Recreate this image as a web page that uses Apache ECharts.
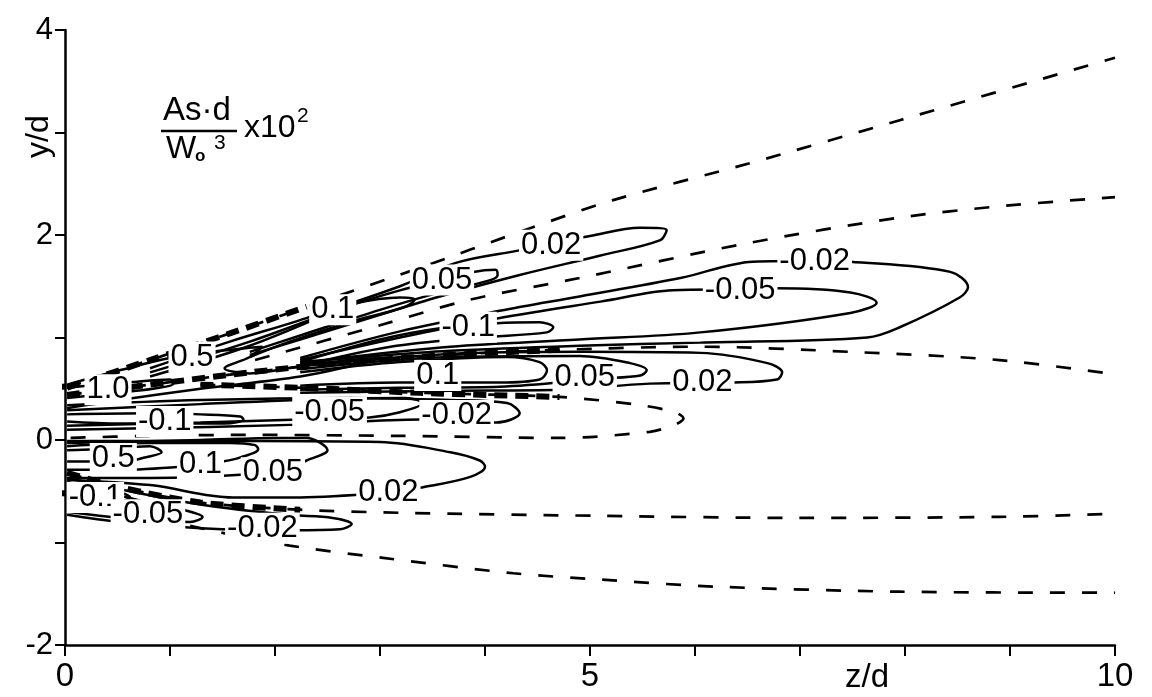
<!DOCTYPE html>
<html><head><meta charset="utf-8">
<script src="https://cdn.jsdelivr.net/npm/echarts/dist/echarts.min.js"></script>
<style>html,body{margin:0;padding:0;background:#fff}#c{width:1152px;height:697px}</style>
</head><body><div id="c"></div>
<script>
// ---- tick labels ----
const xTickLabels = [0, 5, 10];
const yTickLabels = [4, 2, 0, -2];

// ---- zero (dashed) contours ----
const zeroLine1 = [[0.02,0.51],[0.81,0.78],[1.57,1.04],[2.30,1.30],[3.38,1.68],[4.33,2.03],[5.22,2.34],[6.52,2.70],[7.95,3.12],[10.0,3.73]];
const zeroLine2 = [[1.81,0.78],[3.00,1.12],[3.86,1.37],[4.90,1.58],[6.50,1.92],[7.95,2.17],[8.90,2.28],[10.0,2.37]];
const zeroLine3 = [[0.02,0.44],[0.81,0.54],[1.76,0.66],[2.71,0.76],[3.67,0.83],[4.71,0.88],[6.05,0.91],[7.48,0.86],[8.90,0.78],[10.0,0.64]];
const zeroLoop4 = [[1.29,0.54],[2.24,0.51],[3.38,0.46],[4.71,0.42],[5.48,0.34],[5.81,0.27],[5.89,0.21],[5.81,0.15],[5.57,0.08],[4.71,0.02],[3.19,0.04],[1.76,0.05],[0.81,0.04],[0.02,0.02]];
const zeroLine5 = [[0.02,-0.32],[0.52,-0.46],[1.29,-0.61],[2.24,-0.68],[3.19,-0.71],[5.10,-0.74],[7.00,-0.76],[8.90,-0.75],[10.0,-0.72]];
const zeroLine6 = [[0.02,-0.49],[0.81,-0.73],[1.29,-0.86],[2.14,-1.03],[3.03,-1.15],[4.27,-1.30],[5.22,-1.37],[6.17,-1.43],[7.95,-1.48],[10.0,-1.49]];

// ---- solid contours (upper shear layer) ----
const upperPos002 = [[0.81,0.70],[1.57,0.96],[2.24,1.17],[3.19,1.50],[3.73,1.73],[4.33,1.85],[5.00,1.99],[5.48,2.07],[5.73,2.05],[5.67,1.95],[5.10,1.80],[4.33,1.61],[3.57,1.40],[2.90,1.19],[2.24,0.98],[1.76,0.83]];
const upperPos005 = [[0.81,0.66],[1.76,0.96],[2.71,1.31],[3.19,1.46],[3.59,1.56],[3.89,1.64],[4.10,1.66],[4.12,1.61],[4.05,1.56],[3.57,1.44],[3.00,1.27],[2.24,1.02],[1.76,0.86]];
const upperPos01 = [[0.81,0.62],[1.76,0.92],[2.55,1.25],[2.74,1.33],[3.19,1.39],[3.33,1.37],[3.24,1.30],[2.71,1.15],[2.14,0.96],[1.76,0.81]];
const upperPos05 = [[0.02,0.54],[0.52,0.68],[1.00,0.80],[1.48,0.87],[1.88,0.91],[1.76,0.81],[1.52,0.70],[1.76,0.65],[2.24,0.72],[2.71,0.78],[3.00,0.80],[2.71,0.72],[2.24,0.62],[1.29,0.50],[0.52,0.39],[0.02,0.31]];
const upperPos10 = [[0.02,0.51],[0.33,0.54],[0.59,0.56],[1.00,0.59],[1.03,0.55],[0.90,0.51],[0.59,0.47],[0.02,0.41]];
const upperNeg002 = [[2.24,0.80],[3.19,1.06],[4.14,1.26],[4.90,1.40],[5.86,1.58],[6.55,1.74],[7.14,1.75],[7.48,1.74],[8.43,1.64],[8.60,1.49],[8.52,1.39],[7.95,1.10],[7.64,1.00],[6.05,0.95],[4.90,0.92],[3.67,0.87],[2.71,0.80],[2.24,0.76]];
const upperNeg005 = [[2.24,0.78],[3.19,1.00],[4.14,1.19],[5.10,1.35],[5.79,1.46],[6.43,1.47],[6.76,1.48],[7.48,1.44],[7.73,1.34],[7.48,1.24],[6.05,1.05],[4.90,0.98],[3.67,0.91],[2.71,0.81],[2.24,0.74]];
const upperNeg01 = [[2.24,0.76],[3.00,0.98],[3.57,1.09],[4.11,1.14],[4.52,1.15],[4.65,1.10],[4.59,1.05],[3.95,1.00],[3.10,0.91],[2.24,0.72]];

// ---- solid contours (centre region) ----
const midPos01 = [[2.24,0.66],[3.19,0.76],[4.21,0.81],[4.52,0.76],[4.59,0.68],[4.52,0.59],[4.14,0.56],[3.19,0.56],[2.24,0.53]];
const midPos005 = [[2.24,0.69],[3.67,0.81],[4.90,0.82],[5.38,0.75],[5.54,0.68],[5.48,0.63],[5.10,0.60],[4.14,0.52],[3.19,0.51],[2.24,0.49]];
const midPos002 = [[2.24,0.72],[3.67,0.84],[4.90,0.86],[6.05,0.85],[6.69,0.75],[6.83,0.66],[6.78,0.59],[6.33,0.56],[5.57,0.55],[4.71,0.49],[3.67,0.48],[2.24,0.46]];
const midNeg002 = [[0.02,0.34],[1.29,0.39],[2.71,0.41],[3.67,0.39],[4.21,0.36],[4.33,0.26],[4.11,0.17],[3.86,0.20],[3.38,0.20],[2.24,0.15],[0.02,0.10]];
const midNeg005 = [[0.02,0.29],[1.29,0.35],[2.52,0.40],[3.24,0.41],[3.41,0.36],[3.19,0.27],[2.90,0.22],[2.24,0.20],[1.29,0.17],[0.02,0.14]];
const midNeg01 = [[0.02,0.25],[0.81,0.26],[1.29,0.25],[1.67,0.23],[1.70,0.20],[1.52,0.16],[1.10,0.16],[0.52,0.16],[0.02,0.18]];

// ---- solid contours (lower shear layer) ----
const lowPos05 = [[0.02,-0.10],[0.52,-0.08],[0.81,-0.06],[0.92,-0.12],[0.76,-0.17],[0.62,-0.20],[0.02,-0.21]];
const lowPos01 = [[0.02,-0.06],[0.81,-0.03],[1.57,-0.03],[1.81,-0.05],[1.84,-0.09],[1.67,-0.17],[1.50,-0.21],[1.10,-0.26],[0.52,-0.29],[0.02,-0.29]];
const lowPos005 = [[0.02,-0.03],[1.29,0.00],[2.05,0.02],[2.30,0.02],[2.50,-0.10],[2.30,-0.20],[2.14,-0.27],[1.67,-0.34],[0.81,-0.37],[0.02,-0.37]];
const lowPos002 = [[0.02,-0.01],[1.76,-0.01],[3.00,-0.02],[3.67,-0.12],[3.95,-0.20],[4.00,-0.26],[3.86,-0.36],[3.41,-0.46],[3.08,-0.51],[2.24,-0.56],[1.60,-0.56],[0.81,-0.44],[0.02,-0.39]];
const lowNeg01 = [[0.02,-0.44],[0.33,-0.49],[0.52,-0.51],[0.62,-0.56],[0.52,-0.60],[0.33,-0.61],[0.02,-0.63]];
const lowNeg005 = [[0.02,-0.41],[0.71,-0.59],[1.16,-0.69],[1.31,-0.75],[1.19,-0.80],[0.71,-0.78],[0.02,-0.70]];
const lowNeg002 = [[0.02,-0.37],[1.29,-0.63],[2.14,-0.73],[2.55,-0.76],[2.73,-0.82],[2.62,-0.87],[2.17,-0.88],[1.29,-0.86],[0.52,-0.80],[0.02,-0.73]];

// ---- nozzle edge marks ----
const nozzleEdges = [0.52, -0.52];

// ---- contour labels [x, y, text] ----
const contourLabels = [
  [4.63,1.90,'0.02'],[3.59,1.56,'0.05'],[2.55,1.27,'0.1'],[1.21,0.81,'0.5'],[0.41,0.49,'1.0'],
  [7.14,1.74,'-0.02'],[6.43,1.46,'-0.05'],[3.84,1.10,'-0.1'],
  [3.55,0.63,'0.1'],[4.95,0.61,'0.05'],[6.07,0.56,'0.02'],
  [0.95,0.18,'-0.1'],[2.52,0.27,'-0.05'],[3.73,0.24,'-0.02'],
  [0.46,-0.18,'0.5'],[1.29,-0.24,'0.1'],[1.98,-0.32,'0.05'],[3.08,-0.51,'0.02'],
  [0.29,-0.56,'-0.1'],[0.79,-0.73,'-0.05'],[1.88,-0.86,'-0.02']
];

const solidContours = [upperPos002, upperPos005, upperPos01, upperPos05, upperPos10,
  upperNeg002, upperNeg005, upperNeg01, midPos01, midPos005, midPos002,
  midNeg002, midNeg005, midNeg01, lowPos05, lowPos01, lowPos005, lowPos002,
  lowNeg01, lowNeg005, lowNeg002];
// heavy (overdrawn) part of each dashed line: x range
const dashedContours = [
  {d: zeroLine1, heavy: [0, 2.4]}, {d: zeroLine2, heavy: null}, {d: zeroLine3, heavy: [0, 4.8]},
  {d: zeroLoop4, heavy: [1.2, 4.8]}, {d: zeroLine5, heavy: [0, 2.3]}, {d: zeroLine6, heavy: null}
];

const FONT = "'Liberation Sans', Arial, sans-serif";
const series = [];
solidContours.forEach(d => series.push({
  type: 'line', data: d, smooth: 0.35, showSymbol: false, silent: true,
  lineStyle: {color: '#000', width: 2.5}
}));
dashedContours.forEach((o, i) => {
  series.push({type: 'line', data: o.d, smooth: 0.3, showSymbol: false, silent: true,
    lineStyle: {color: '#000', width: 2.7, type: [15, 17]}});
  if (o.heavy) {
    const part = o.d.filter(p => p[0] >= o.heavy[0] && p[0] <= o.heavy[1] && (i !== 3 || p[1] > 0.3));
    series.push({type: 'line', data: part, smooth: 0.3, showSymbol: false, silent: true,
      lineStyle: {color: '#000', width: 6, type: [13, 8]}});
  }
});
nozzleEdges.forEach(yv => series.push({
  type: 'line', data: [[-0.29, yv], [0, yv]], clip: false, showSymbol: false, silent: true,
  lineStyle: {color: '#000', width: 6}
}));
series.push({
  type: 'scatter', symbolSize: 0, z: 20, silent: true,
  itemStyle: {opacity: 1},
  data: contourLabels.map(l => ({value: [l[0], l[1]], name: l[2]})),
  label: {show: true, position: 'inside', formatter: '{b}', color: '#000', opacity: 1,
    fontFamily: FONT, fontSize: 31, backgroundColor: '#fff', padding: [0, 2], lineHeight: 31}
});

const chart = echarts.init(document.getElementById('c'), null, {renderer: 'canvas'});
chart.setOption({
  animation: false,
  backgroundColor: '#fff',
  grid: {left: 65, right: 37, top: 30, bottom: 52},
  xAxis: {
    type: 'value', min: 0, max: 10, interval: 1,
    axisLine: {onZero: false, lineStyle: {color: '#000', width: 2.5}},
    axisTick: {length: 11, lineStyle: {color: '#000', width: 2}},
    axisLabel: {color: '#000', fontSize: 33, fontFamily: FONT, margin: 15,
      formatter: v => xTickLabels.includes(v) ? String(v) : ''},
    splitLine: {show: false}
  },
  yAxis: {
    type: 'value', min: -2, max: 4, interval: 1,
    axisLine: {onZero: false, lineStyle: {color: '#000', width: 2.5}},
    axisTick: {length: 10, lineStyle: {color: '#000', width: 2}},
    axisLabel: {color: '#000', fontSize: 31, fontFamily: FONT, margin: 12,
      formatter: v => yTickLabels.includes(v) ? String(v) : ''},
    splitLine: {show: false}
  },
  graphic: [
    {type: 'text', left: 845, top: 661, style: {text: 'z/d', font: '33px ' + FONT, fill: '#000'}},
    {type: 'text', x: 23, y: 158, rotation: Math.PI / 2, style: {text: 'y/d', font: '32px ' + FONT, fill: '#000'}},
    {type: 'text', left: 163, top: 94, style: {text: 'As·d', font: '33px ' + FONT, fill: '#000'}},
    {type: 'line', shape: {x1: 161, y1: 131, x2: 237, y2: 131}, style: {stroke: '#000', lineWidth: 2.5}},
    {type: 'text', left: 166, top: 133, style: {text: 'W', font: '32px ' + FONT, fill: '#000'}},
    {type: 'text', left: 195, top: 148, style: {text: 'o', font: 'bold 17px ' + FONT, fill: '#000'}},
    {type: 'text', left: 214, top: 133, style: {text: '3', font: '21px ' + FONT, fill: '#000'}},
    {type: 'text', left: 244, top: 112, style: {text: 'x10', font: '32px ' + FONT, fill: '#000'}},
    {type: 'text', left: 297, top: 106, style: {text: '2', font: '21px ' + FONT, fill: '#000'}}
  ],
  series: series
});
</script>
</body></html>
